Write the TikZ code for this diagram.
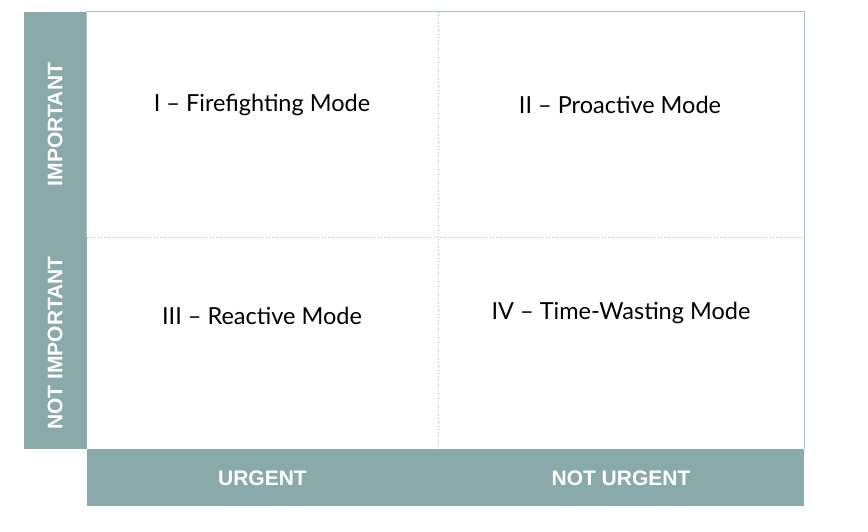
\documentclass[tikz,border=0pt]{standalone}
\usepackage{fontspec}
\setmainfont{Lato}
\newfontfamily\barfont{Liberation Sans}
\usetikzlibrary{positioning}
\definecolor{barteal}{HTML}{8AA9AA}
\definecolor{gridline}{HTML}{A9C3C6}

\begin{document}
\begin{tikzpicture}[
    x=1pt, y=-1pt,
    bar/.style={fill=barteal, inner sep=0pt, text=white, font=\barfont\bfseries\fontsize{21}{22}\selectfont},
    quad/.style={inner sep=0pt},
    mode/.style={font=\fontsize{23.5}{25}\selectfont, text=black}
]
\useasboundingbox (0,0) rectangle (868,532);

% Quadrants
\node (q1) [quad, minimum width=351, minimum height=225] at (262.5,124.5) {};
\node (q2) [quad, minimum width=366, minimum height=225] at (621,124.5) {};
\node (q3) [quad, minimum width=351, minimum height=212] at (262.5,343) {};
\node (q4) [quad, minimum width=366, minimum height=212] at (621,343) {};

% Axis bars
\node (imp) [bar, minimum width=63, minimum height=225, anchor=north east] at (q1.north west) {\rotatebox{90}{IMPORTANT}};
\node (notimp) [bar, minimum width=63, minimum height=212, anchor=north east] at (q3.north west) {\rotatebox{90}{NOT IMPORTANT}};
\node (urg) [bar, minimum width=351, minimum height=57, anchor=north west] at (q3.south west) {URGENT};
\node (noturg) [bar, minimum width=366, minimum height=57, anchor=north west] at (q4.south west) {NOT URGENT};

% Frame and dividers
\draw [gridline, line width=0.8pt] (q1.south west) |- (q2.north east) |- (q4.south east);
\draw [gridline, dotted, line width=0.8pt] (q1.south west) -- (q2.south east);
\draw [gridline, dotted, line width=0.8pt] (q1.north east) -- (q3.south east);

% Labels
\node (firefighting) [mode] at (262,105) {I – Firefighting Mode};
\node (proactive) [mode] at (620,105) {II – Proactive Mode};
\node (reactive) [mode] at (262,316) {III – Reactive Mode};
\node (timewasting) [mode] at (621,313) {IV – Time-Wasting Mode};

\end{tikzpicture}
\end{document}
